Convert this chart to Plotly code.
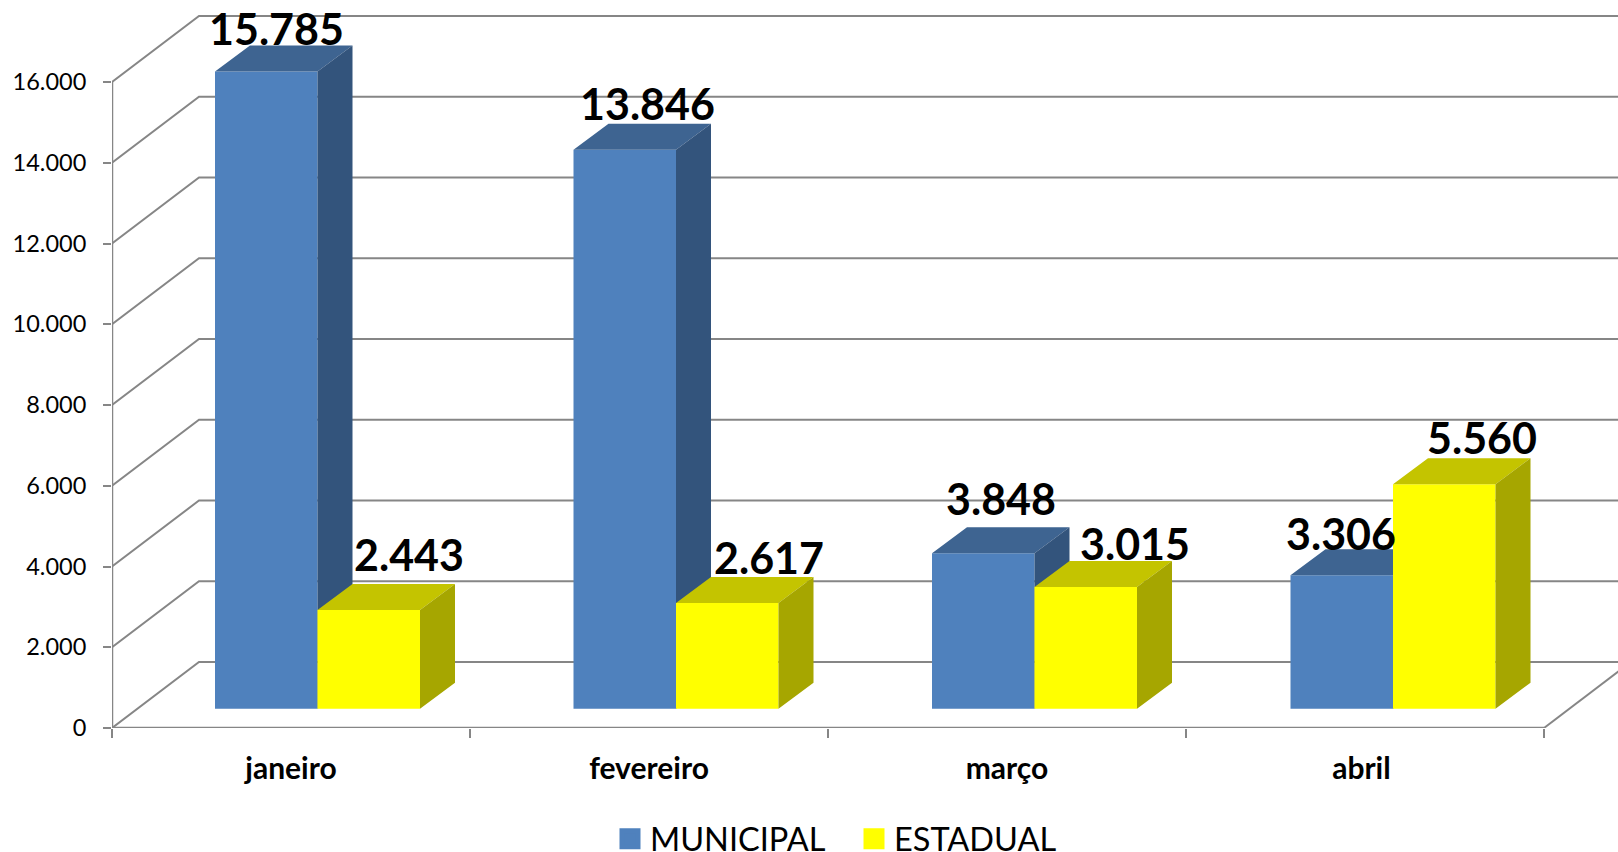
import plotly.graph_objects as go

# ---- data ----
categories = ["janeiro", "fevereiro", "março", "abril"]
municipal = [15785, 13846, 3848, 3306]
estadual = [2443, 2617, 3015, 5560]
y_ticks = [0, 2000, 4000, 6000, 8000, 10000, 12000, 14000, 16000]
y_tick_labels = ["0", "2.000", "4.000", "6.000", "8.000", "10.000", "12.000", "14.000", "16.000"]

# ---- geometry: pixel sizes of the fake 3D projection ----
W, H = 1618, 852
PX_LEFT, PX_ZERO, PX_16K = 112, 728, 82
PX_CAT = 358
PX_PER_UNIT = (PX_ZERO - PX_16K) / 16000
XMAX = (W - PX_LEFT) / PX_CAT
YMAX = PX_ZERO / PX_PER_UNIT


def ux(px):
    return px / PX_CAT


def uy(px):
    return px / PX_PER_UNIT


WALL_DX, WALL_DY = ux(87), uy(66)
BAR_W = ux(102.5)
BAR_START = ux(103)      # left edge of a group inside its category
GROUP_STEP = ux(358.5)   # bar groups sit slightly wider apart than the axis ticks
FLOOR = uy(19.3)         # bars stand on the floor, behind the front edge
DEPTH_DX, DEPTH_DY = ux(35), uy(26)

GRID = "#868686"
BLUE, BLUE_TOP, BLUE_SIDE = "#4F81BD", "#3E6491", "#33547C"
YEL, YEL_TOP, YEL_SIDE = "#FFFF00", "#C4C400", "#A6A600"
FONT = "Lato"

# label nudges in px relative to the top-centre of the front face (manual in the source chart)
NUDGE_MUN = [(10, 43), (23, 46), (18, 55), (-1, 42)]
NUDGE_EST = [(40, 56), (42, 46), (49, 43), (38, 47)]

fig = go.Figure()

# ---- walls (bottom layer) ----
xs, ys = [], []
for v in y_ticks:
    xs += [0, WALL_DX, XMAX, None]
    ys += [v, v + WALL_DY, v + WALL_DY, None]
xs += [len(categories), len(categories) + WALL_DX, None]
ys += [0, WALL_DY, None]
fig.add_trace(go.Scatter(x=xs, y=ys, mode="lines", line=dict(color=GRID, width=2),
                         showlegend=False, hoverinfo="skip"))
# front axis lines
fig.add_trace(go.Scatter(x=[0, 0, None, 0, len(categories)],
                         y=[0, y_ticks[-1], None, 0, 0], mode="lines",
                         line=dict(color=GRID, width=2.5), cliponaxis=False,
                         showlegend=False, hoverinfo="skip"))
# legend entries
for name, col in (("MUNICIPAL", BLUE), ("ESTADUAL", YEL)):
    fig.add_trace(go.Scatter(x=[None], y=[None], mode="markers", name=name,
                             marker=dict(symbol="square", size=16, color=col,
                                         line=dict(color=col, width=5))))


def add_series(values, start, col, top, side, axis_id):
    cx = [i * GROUP_STEP + start for i in range(len(values))]
    fig.add_trace(go.Bar(x=[c + BAR_W / 2 for c in cx], y=values, base=[FLOOR] * len(values),
                         width=BAR_W, marker=dict(color=col, line=dict(width=0)),
                         showlegend=False, xaxis=f"x{axis_id}", yaxis=f"y{axis_id}"))
    tx, ty, sx, sy = [], [], [], []
    for c, v in zip(cx, values):
        h = v + FLOOR
        tx += [c, c + BAR_W, c + BAR_W + DEPTH_DX, c + DEPTH_DX, c, None]
        ty += [h, h, h + DEPTH_DY, h + DEPTH_DY, h, None]
        r = c + BAR_W
        sx += [r, r + DEPTH_DX, r + DEPTH_DX, r, r, None]
        sy += [FLOOR, FLOOR + DEPTH_DY, h + DEPTH_DY, h, FLOOR, None]
    for px_, py_, colr in ((tx, ty, top), (sx, sy, side)):
        fig.add_trace(go.Scatter(x=px_, y=py_, mode="lines", fill="toself", fillcolor=colr,
                                 line=dict(width=0, color=colr), showlegend=False,
                                 hoverinfo="skip", xaxis=f"x{axis_id}", yaxis=f"y{axis_id}"))


add_series(municipal, BAR_START, BLUE, BLUE_TOP, BLUE_SIDE, 2)
add_series(estadual, BAR_START + BAR_W, YEL, YEL_TOP, YEL_SIDE, 3)

# ---- data labels ----
annotations = []
for values, start, nudges in ((municipal, BAR_START, NUDGE_MUN),
                              (estadual, BAR_START + BAR_W, NUDGE_EST)):
    for i, (v, (dx, dy)) in enumerate(zip(values, nudges)):
        annotations.append(dict(x=i * GROUP_STEP + start + BAR_W / 2, y=v + FLOOR, xref="x3", yref="y3",
                                text=f"{v:,}".replace(",", "."), showarrow=False,
                                xshift=dx, yshift=dy, xanchor="center", yanchor="middle",
                                font=dict(family=FONT, size=43, color="black", weight=700)))

hidden = dict(visible=False, range=[0, XMAX], overlaying="x", fixedrange=True)
hidden_y = dict(visible=False, range=[0, YMAX], overlaying="y", fixedrange=True)

fig.update_layout(
    width=W, height=H,
    margin=dict(l=0, r=0, t=0, b=0, autoexpand=False),
    paper_bgcolor="white", plot_bgcolor="white",
    barmode="overlay",
    showlegend=True,
    legend=dict(orientation="h", x=610 / W, xanchor="left", y=-15 / H, yanchor="bottom",
                entrywidth=199, entrywidthmode="pixels",
                font=dict(family=FONT, size=32.5, color="black"),
                bgcolor="rgba(0,0,0,0)", itemclick=False, itemdoubleclick=False),
    annotations=annotations,
    xaxis=dict(domain=[PX_LEFT / W, 1], range=[0, XMAX], fixedrange=True, showgrid=False,
               zeroline=False, showline=False,
               tickmode="array", tickvals=[0.5, 1.5, 2.5, 3.49],
               ticktext=categories, ticks="", ticklabelstandoff=20,
               tickfont=dict(family=FONT, size=30, color="black", weight=700),
               minor=dict(tickmode="array", tickvals=list(range(len(categories) + 1)),
                          ticks="outside", ticklen=9, tickwidth=2, tickcolor=GRID, showgrid=False)),
    yaxis=dict(domain=[(H - PX_ZERO) / H, 1], range=[0, YMAX], fixedrange=True, showgrid=False,
               zeroline=False, showline=False,
               tickmode="array", tickvals=y_ticks, ticktext=y_tick_labels,
               ticks="outside", ticklen=8, tickwidth=2, tickcolor=GRID,
               ticklabelstandoff=12,
               tickfont=dict(family=FONT, size=23.5, color="black")),
    xaxis2=hidden, xaxis3=hidden, yaxis2=dict(hidden_y), yaxis3=dict(hidden_y),
)

fig.write_html("out.html", config=dict(displayModeBar=False),
               post_script="document.body.style.margin='0';document.documentElement.style.overflow='hidden';window.scrollTo(0,0);")
